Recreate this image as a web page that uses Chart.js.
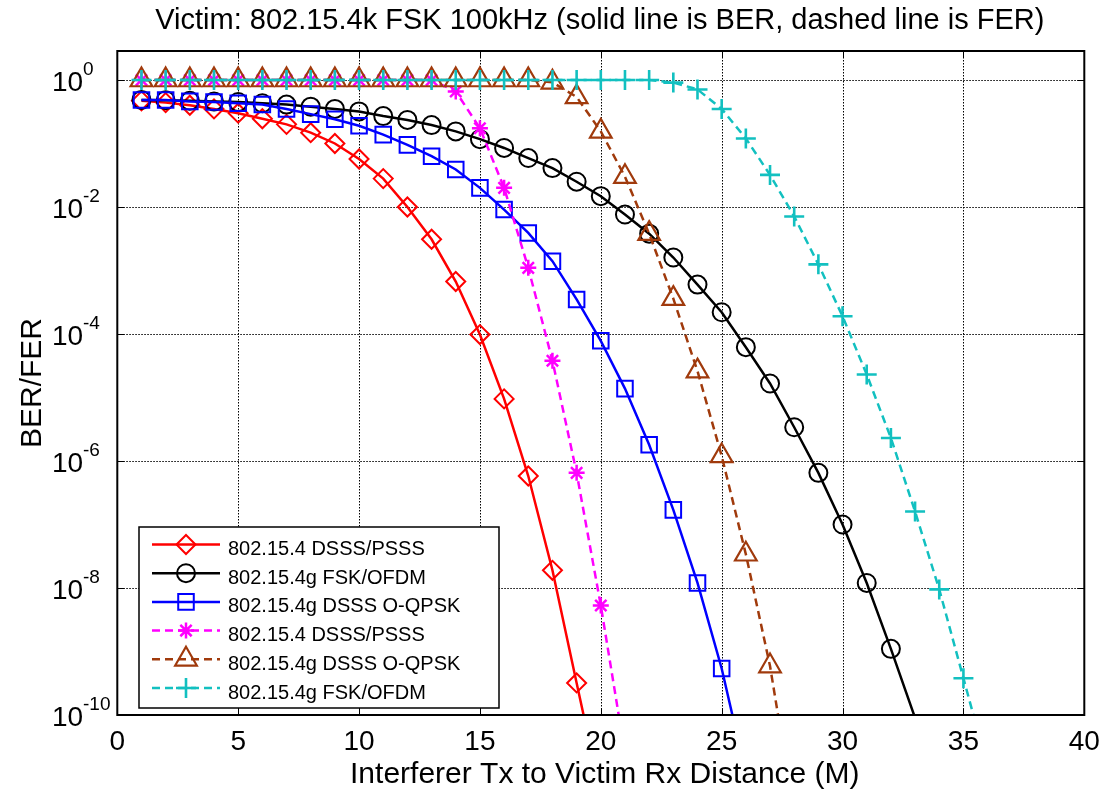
<!DOCTYPE html>
<html>
<head>
<meta charset="utf-8">
<script src="https://cdn.jsdelivr.net/npm/chart.js@4.4.1/dist/chart.umd.min.js"></script>
<style>
html,body{margin:0;padding:0;background:#fff;}
#c{display:block;}
</style>
</head>
<body>
<canvas id="c" width="1104" height="793"></canvas>
<script>
// ---------------- data ----------------
const titleText = 'Victim: 802.15.4k FSK 100kHz (solid line is BER, dashed line is FER)';
const xLabel = 'Interferer Tx to Victim Rx Distance (M)';
const yLabel = 'BER/FER';
const xTicks = [0, 5, 10, 15, 20, 25, 30, 35, 40];
const yTickExps = [0, -2, -4, -6, -8, -10];
const distances = [1,2,3,4,5,6,7,8,9,10,11,12,13,14,15,16,17,18,19,20,21,22,23,24,25,26,27,28,29,30,31,32,33,34,35,36];
const seriesNames = ['802.15.4 DSSS/PSSS','802.15.4g FSK/OFDM','802.15.4g DSSS O-QPSK','802.15.4 DSSS/PSSS','802.15.4g DSSS O-QPSK','802.15.4g FSK/OFDM'];

const berDsssPsss = [0.47,0.44,0.40,0.35,0.30,0.245,0.20,0.148,0.10,0.057,0.028,0.010,3.1e-3,6.7e-4,9.8e-5,9.5e-6,5.8e-7,1.9e-8,3.2e-10,5.6e-12];
const berFskOfdm = [0.485,0.48,0.47,0.46,0.45,0.43,0.41,0.38,0.35,0.32,0.27,0.235,0.195,0.155,0.117,0.085,0.059,0.041,0.025,0.0148,0.0076,0.0038,0.0016,6.0e-4,2.2e-4,6.2e-5,1.66e-5,3.4e-6,6.5e-7,1.0e-7,1.2e-8,1.1e-9,9e-11];
const berOqpsk = [0.485,0.485,0.46,0.45,0.43,0.41,0.35,0.29,0.24,0.19,0.138,0.095,0.063,0.039,0.020,0.0091,0.0039,0.0014,3.5e-4,7.8e-5,1.38e-5,1.8e-6,1.7e-7,1.2e-8,5.4e-10,1.2e-11];
const ferDsssPsss = [1,1,1,1,1,1,1,1,1,1,1,1,1,0.66,0.174,0.020,1.1e-3,3.8e-5,6.5e-7,5.3e-9,2.5e-11];
const ferOqpsk = [1,1,1,1,1,1,1,1,1,1,1,1,1,1,1,1,1,0.92,0.54,0.155,0.030,3.8e-3,3.6e-4,2.6e-5,1.2e-6,3.4e-8,5.9e-10,2.8e-12];
const ferFskOfdm = [1,1,1,1,1,1,1,1,1,1,1,1,1,1,1,1,1,1,1,1,1,1,0.91,0.71,0.35,0.12,0.032,7.1e-3,1.25e-3,1.9e-4,2.3e-5,2.3e-6,1.6e-7,9.5e-9,3.8e-10,1.5e-11];

// ---------------- styles ----------------
const FONT = '"Liberation Sans", Arial, Helvetica, sans-serif';
const Y_MIN = 1e-10, Y_MAX = 2.86;
const pts = (vals) => vals.map((v, i) => ({x: distances[i], y: v}));
function ds(label, vals, color, style, radius, markerWidth, dashed, order) {
  return {
    label, data: pts(vals), borderColor: color, backgroundColor: 'rgba(0,0,0,0)',
    borderWidth: 2.5, borderDash: dashed ? [8,5] : [], pointStyle: style,
    legendRadius: radius,
    // markers of points outside the axis limits are not shown (as in the original)
    pointRadius: (c) => (c.raw && c.raw.y < Y_MIN) ? 0 : radius,
    pointBorderColor: color, pointBackgroundColor: 'rgba(0,0,0,0)',
    pointBorderWidth: markerWidth, tension: 0, fill: false, order
  };
}
const datasets = [
  ds(seriesNames[0], berDsssPsss, '#ff0000', 'rectRot', 9.5, 2, false, 5),
  ds(seriesNames[1], berFskOfdm, '#000000', 'circle', 9, 2, false, 4),
  ds(seriesNames[2], berOqpsk, '#0000ff', 'rect', 11, 2, false, 3),
  ds(seriesNames[3], ferDsssPsss, '#ff00ff', 'star', 8, 2.5, true, 2),
  ds(seriesNames[4], ferOqpsk, '#a03a0c', 'triangle', 12.5, 2.2, true, 1),
  ds(seriesNames[5], ferFskOfdm, '#12c0c0', 'cross', 10, 2.6, true, 0)
];

// ---------------- decorations plugin ----------------
const deco = {
  id: 'deco',
  beforeDatasetsDraw(chart) {
    const {ctx, chartArea: a, scales: {x, y}} = chart;
    ctx.save();
    ctx.strokeStyle = '#000';
    ctx.lineWidth = 1;
    ctx.setLineDash([1.5, 1.5]);
    xTicks.forEach(v => {
      const px = Math.round(x.getPixelForValue(v)) + 0.5;
      ctx.beginPath(); ctx.moveTo(px, a.top); ctx.lineTo(px, a.bottom); ctx.stroke();
    });
    yTickExps.forEach(e => {
      const py = Math.round(y.getPixelForValue(Math.pow(10, e))) + 0.5;
      ctx.beginPath(); ctx.moveTo(a.left, py); ctx.lineTo(a.right, py); ctx.stroke();
    });
    ctx.restore();
  },
  afterDatasetsDraw(chart) {
    const {ctx, chartArea: a, scales: {x, y}} = chart;
    ctx.save();
    // tick marks (inward)
    ctx.strokeStyle = '#000'; ctx.lineWidth = 1; ctx.setLineDash([]);
    const TL = 7;
    xTicks.forEach(v => {
      const px = Math.round(x.getPixelForValue(v)) + 0.5;
      ctx.beginPath();
      ctx.moveTo(px, a.bottom); ctx.lineTo(px, a.bottom - TL);
      ctx.moveTo(px, a.top); ctx.lineTo(px, a.top + TL);
      ctx.stroke();
    });
    yTickExps.forEach(e => {
      const py = Math.round(y.getPixelForValue(Math.pow(10, e))) + 0.5;
      ctx.beginPath();
      ctx.moveTo(a.left, py); ctx.lineTo(a.left + TL, py);
      ctx.moveTo(a.right, py); ctx.lineTo(a.right - TL, py);
      ctx.stroke();
    });
    // frame
    ctx.lineWidth = 2;
    ctx.strokeRect(a.left, a.top, a.right - a.left, a.bottom - a.top);

    // x tick labels
    ctx.fillStyle = '#000';
    ctx.font = '28px ' + FONT;
    ctx.textAlign = 'center'; ctx.textBaseline = 'alphabetic';
    xTicks.forEach(v => ctx.fillText(String(v), x.getPixelForValue(v), 750));
    // y tick labels with superscripts
    yTickExps.forEach(e => {
      const py = y.getPixelForValue(Math.pow(10, e));
      ctx.font = '28px ' + FONT; ctx.textAlign = 'left';
      ctx.fillText('10', 52, py + 11);
      ctx.font = '19px ' + FONT;
      ctx.fillText(String(e), 83, py - 5);
    });
    // axis titles
    ctx.font = '30px ' + FONT; ctx.textAlign = 'center';
    ctx.fillText(xLabel, (a.left + a.right) / 2 + 4, 783);
    ctx.save();
    ctx.translate(41, (a.top + a.bottom) / 2);
    ctx.rotate(-Math.PI / 2);
    ctx.fillText(yLabel, 0, 0);
    ctx.restore();
    // title
    ctx.font = '29px ' + FONT;
    ctx.fillText(titleText, (a.left + a.right) / 2 - 1, 29);

    // legend
    const L = {x: 139, y: 527, w: 360, h: 181};
    ctx.fillStyle = '#fff';
    ctx.fillRect(L.x, L.y, L.w, L.h);
    ctx.strokeStyle = '#000'; ctx.lineWidth = 1.5;
    ctx.strokeRect(L.x, L.y, L.w, L.h);
    chart.data.datasets.forEach((d, i) => {
      const base = 555 + i * 28.7;
      const ly = base - 10.5;
      ctx.save();
      ctx.strokeStyle = d.borderColor; ctx.lineWidth = d.borderWidth;
      ctx.setLineDash(d.borderDash);
      ctx.beginPath(); ctx.moveTo(152, ly); ctx.lineTo(220, ly); ctx.stroke();
      ctx.setLineDash([]);
      ctx.strokeStyle = d.pointBorderColor; ctx.fillStyle = 'rgba(0,0,0,0)';
      ctx.lineWidth = d.pointBorderWidth;
      Chart.helpers.drawPoint(ctx, {pointStyle: d.pointStyle, rotation: 0, radius: d.legendRadius, borderWidth: d.pointBorderWidth}, 186, ly);
      ctx.restore();
      ctx.fillStyle = '#000';
      ctx.font = '20px ' + FONT; ctx.textAlign = 'left';
      ctx.fillText(d.label, 228, base);
    });
    ctx.restore();
  }
};

new Chart(document.getElementById('c'), {
  type: 'line',
  data: {datasets},
  options: {
    responsive: false,
    animation: false,
    layout: {padding: {top: 51, right: 19.7, left: 0, bottom: 0}},
    scales: {
      x: {
        type: 'linear', min: 0, max: 40,
        ticks: {display: false, stepSize: 5},
        grid: {display: false}, border: {display: false},
        afterFit(s) { s.height = 78; }
      },
      y: {
        type: 'logarithmic', min: Y_MIN, max: Y_MAX,
        ticks: {display: false},
        grid: {display: false}, border: {display: false},
        afterFit(s) { s.width = 117.3; }
      }
    },
    plugins: {legend: {display: false}, title: {display: false}, tooltip: {enabled: false}}
  },
  plugins: [deco]
});
</script>
</body>
</html>
